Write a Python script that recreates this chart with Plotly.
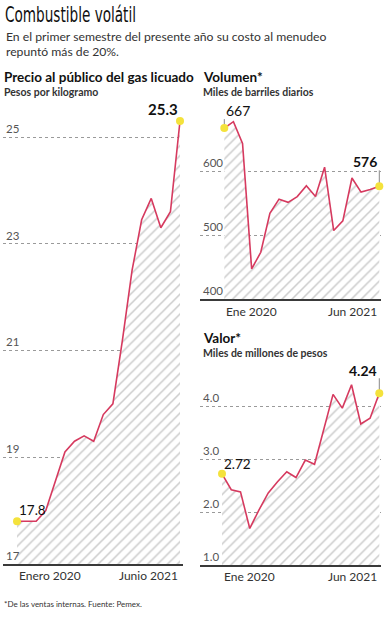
import plotly.graph_objects as go

# ---------------- data ----------------
months = list(range(18))  # Jan 2020 .. Jun 2021
precio = [17.8, 17.8, 17.8, 18.0, 18.55, 19.1, 19.3, 19.4, 19.3, 19.8, 20.0,
          21.2, 22.5, 23.45, 23.85, 23.3, 23.6, 25.3]
volumen = [667, 677, 643, 447, 473, 534, 556, 551, 560, 577, 560, 606, 507,
           522, 589, 567, 571, 576]
valor = [2.72, 2.42, 2.38, 1.69, 2.04, 2.36, 2.57, 2.76, 2.65, 2.98, 2.90,
         3.55, 4.22, 3.96, 4.40, 3.66, 3.77, 4.24]

precio_ticks = [17, 19, 21, 23, 25]
volumen_ticks = [400, 500, 600]
valor_ticks = [1.0, 2.0, 3.0, 4.0]
valor_ticklabels = ["1.0", "2.0", "3.0", "4.0"]

xlabels_left = ["Enero 2020", "Junio 2021"]
xlabels_right = ["Ene 2020", "Jun 2021"]

precio_lbl = ["17.8", "25.3"]
volumen_lbl = ["667", "576"]
valor_lbl = ["2.72", "4.24"]

# ---------------- style ----------------
W, H = 385, 620
LINE = "#d63a5f"
DOT = "#f4e23c"
GRID = "#9a9a9a"
AXIS = "#3a3a3a"
FONT = "Lato"
TXT = "#222222"


def px(x):
    return x / W


def py(y):
    return 1 - y / H


fig = go.Figure()

panels = [
    dict(xa="x", ya="y", vals=precio),
    dict(xa="x2", ya="y2", vals=volumen),
    dict(xa="x3", ya="y3", vals=valor),
]

for p in panels:
    fig.add_trace(go.Scatter(
        x=months, y=p["vals"], xaxis=p["xa"], yaxis=p["ya"],
        mode="lines", line=dict(color=LINE, width=1.6),
        fill="tozeroy", fillcolor="rgba(0,0,0,0)",
        fillpattern=dict(shape="/", fgcolor="#979797", bgcolor="white",
                         size=7, solidity=0.22),
        hoverinfo="skip", showlegend=False))
    fig.add_trace(go.Scatter(
        x=[months[0], months[-1]], y=[p["vals"][0], p["vals"][-1]],
        xaxis=p["xa"], yaxis=p["ya"], mode="markers",
        marker=dict(color=DOT, size=8), cliponaxis=False,
        hoverinfo="skip", showlegend=False))


def yr(bottom_px, top_px, v0, v0px, v1, v1px):
    s = (v0px - v1px) / (v1 - v0)
    lo = v0 - (bottom_px - v0px) / s
    hi = v0 + (v0px - top_px) / s
    return [lo, hi]


def xr(left_px, right_px, m0px, m17px):
    s = (m17px - m0px) / 17
    return [(left_px - m0px) / s, 17 + (right_px - m17px) / s]


common_y = dict(showgrid=True, gridcolor=GRID, griddash="dot", gridwidth=1,
                zeroline=False, showline=False, ticks="",
                ticklabelposition="inside top",
                tickfont=dict(family=FONT, size=11.5, color="#555"),
                fixedrange=True)
common_x = dict(showgrid=False, zeroline=False, showline=True,
                linecolor=AXIS, linewidth=2, showticklabels=False, ticks="",
                fixedrange=True)

# Left panel
L = dict(l=3, r=183, t=105, b=564)
fig.update_layout(
    xaxis=dict(domain=[px(L["l"]), px(L["r"])],
               range=xr(L["l"], L["r"], 17, 180), anchor="y", **common_x),
    yaxis=dict(domain=[py(L["b"]), py(L["t"])],
               range=yr(L["b"], L["t"], 17, 564, 25, 137), anchor="x",
               tickvals=precio_ticks, **common_y),
)
# Right top
R1 = dict(l=200, r=381, t=114, b=299)
fig.update_layout(
    xaxis2=dict(domain=[px(R1["l"]), px(R1["r"])],
                range=xr(R1["l"], R1["r"], 224.3, 379.3), anchor="y2", **common_x),
    yaxis2=dict(domain=[py(R1["b"]), py(R1["t"])],
                range=yr(R1["b"], R1["t"], 400, 299, 600, 171), anchor="x2",
                tickvals=volumen_ticks, **common_y),
)
# Right bottom
R2 = dict(l=200, r=381, t=378, b=565)
fig.update_layout(
    xaxis3=dict(domain=[px(R2["l"]), px(R2["r"])],
                range=xr(R2["l"], R2["r"], 222, 379.3), anchor="y3", **common_x),
    yaxis3=dict(domain=[py(R2["b"]), py(R2["t"])],
                range=yr(R2["b"], R2["t"], 1.0, 565, 4.0, 406), anchor="x3",
                tickvals=valor_ticks, ticktext=valor_ticklabels, **common_y),
)

ann = []

# x labels
for xa, labels, ypx in [("x", xlabels_left, 575), ("x2", xlabels_right, 311),
                        ("x3", xlabels_right, 576)]:
    ann.append(dict(x=months[0], xref=xa, y=py(ypx), yref="paper",
                    text=labels[0], showarrow=False, xanchor="left",
                    yanchor="middle", font=dict(family=FONT, size=12, color="#333")))
    ann.append(dict(x=months[-1], xref=xa, y=py(ypx), yref="paper",
                    text=labels[1], showarrow=False, xanchor="right",
                    yanchor="middle", font=dict(family=FONT, size=12, color="#333")))


def plabel(xa, ya, xi, val, text, bold, xanchor, yshift, size):
    t = f"<b>{text}</b>" if bold else text
    ann.append(dict(x=xi, xref=xa, y=val, yref=ya, text=t, showarrow=False,
                    xanchor=xanchor, yanchor="bottom", yshift=yshift,
                    font=dict(family=FONT, size=size, color="#111")))


plabel("x", "y", months[0], precio[0], precio_lbl[0], False, "left", 1, 13.5)
plabel("x", "y", months[-1], precio[-1], precio_lbl[1], True, "right", 1, 15)
plabel("x2", "y2", months[0], volumen[0], volumen_lbl[0], False, "left", 7, 14)
plabel("x2", "y2", months[-1], volumen[-1], volumen_lbl[1], True, "right", 14, 14)
plabel("x3", "y3", months[0], valor[0], valor_lbl[0], False, "left", 0, 13.5)
plabel("x3", "y3", months[-1], valor[-1], valor_lbl[1], True, "right", 12, 14)

# leader lines
shapes = []
for xa, ya, xi, val, h in [("x2", "y2", months[0], volumen[0], 9),
                           ("x2", "y2", months[-1], volumen[-1], 16),
                           ("x3", "y3", months[-1], valor[-1], 15)]:
    shapes.append(dict(type="line", xref=xa, yref=ya, x0=xi, x1=xi,
                       ysizemode="pixel", yanchor=val, y0=0, y1=h,
                       line=dict(color="#888", width=1), layer="below"))


def txt(x, y, text, size, bold=False, color=TXT, family=FONT):
    t = f"<b>{text}</b>" if bold else text
    ann.append(dict(x=px(x), y=py(y), xref="paper", yref="paper", text=t,
                    showarrow=False, xanchor="left", yanchor="middle",
                    align="left", font=dict(family=family, size=size, color=color)))


txt(3, 14, "Combustible volátil", 22, color="#111",
    family="DejaVu Sans Condensed, Roboto, sans-serif")
txt(4, 36, "En el primer semestre del presente año su costo al menudeo", 12.2, color="#333")
txt(4, 51.5, "repuntó más de 20%.", 12.2, color="#333")
txt(2, 77, "Precio al público del gas licuado", 13.5, bold=True, color="#111")
txt(2, 92, "Pesos por kilogramo", 10.5, bold=True, color="#333")
txt(201, 77, "Volumen*", 13.5, bold=True, color="#111")
txt(201, 92, "Miles de barriles diarios", 10.5, bold=True, color="#333")
txt(201, 338, "Valor*", 13.5, bold=True, color="#111")
txt(201, 353, "Miles de millones de pesos", 10.5, bold=True, color="#333")
txt(2, 604, "*De las ventas internas. Fuente: Pemex.", 8, color="#333")

fig.update_layout(
    width=W, height=H, margin=dict(l=0, r=0, t=0, b=0),
    paper_bgcolor="white", plot_bgcolor="white",
    annotations=ann, shapes=shapes, showlegend=False,
)

post = """
document.body.style.margin = '0px';
document.body.style.overflow = 'hidden';
var ts = document.querySelectorAll('g.annotation text');
ts.forEach(function(t){
  if (t.textContent === 'Combustible volátil') {
    t.setAttribute('textLength', '131');
    t.setAttribute('lengthAdjust', 'spacingAndGlyphs');
  }
});
"""

fig.write_html("out.html", config={"displayModeBar": False}, post_script=post)
